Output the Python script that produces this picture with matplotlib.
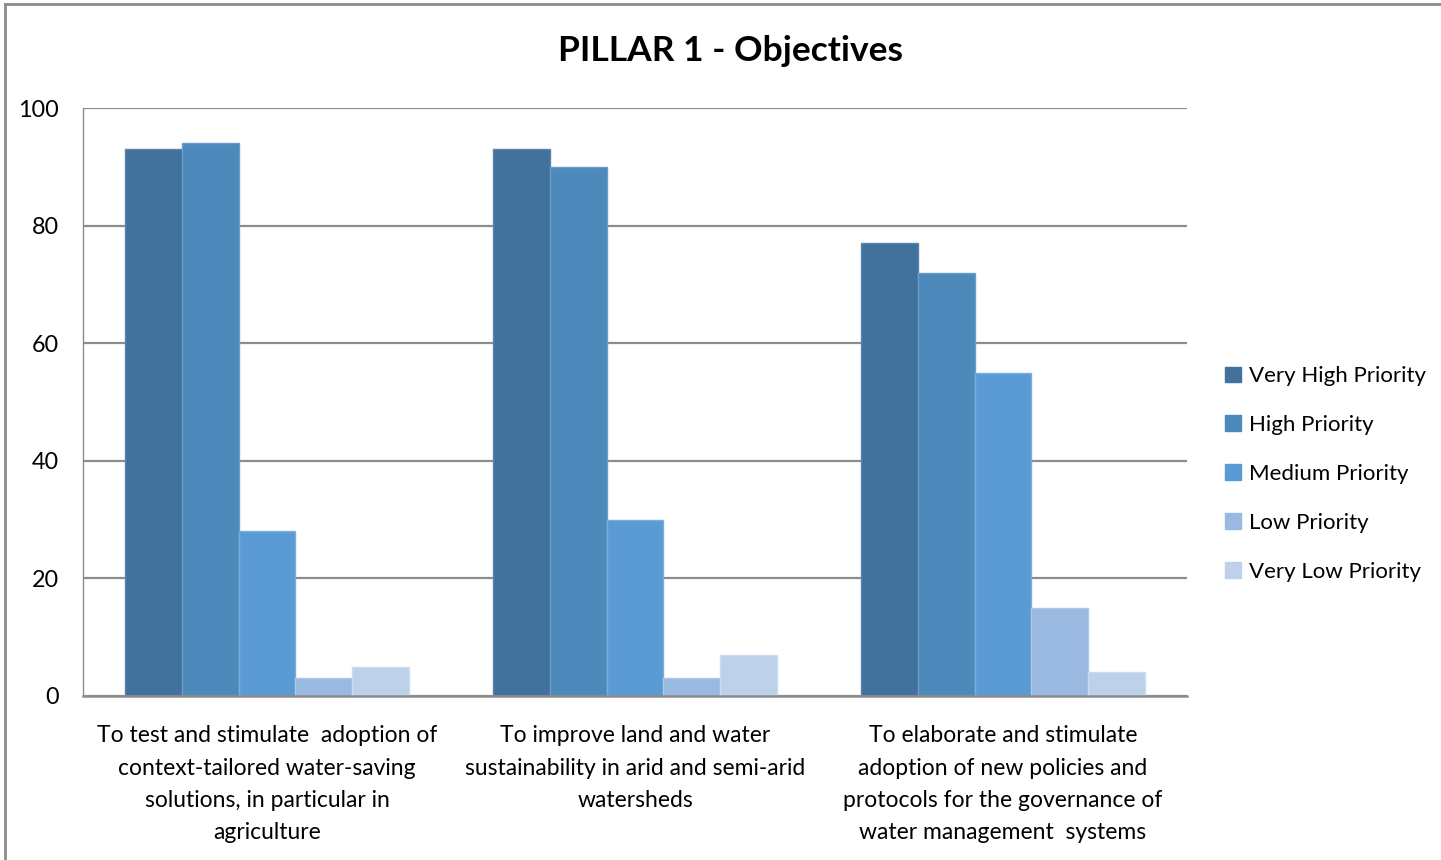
import matplotlib
matplotlib.use("Agg")
import matplotlib.pyplot as plt
from matplotlib.patches import Patch
from matplotlib.lines import Line2D
import numpy as np

plt.rcParams['font.family'] = ['Lato', 'DejaVu Sans']

categories = [
    "To test and stimulate  adoption of\ncontext-tailored water-saving\nsolutions, in particular in\nagriculture",
    "To improve land and water\nsustainability in arid and semi-arid\nwatersheds",
    "To elaborate and stimulate\nadoption of new policies and\nprotocols for the governance of\nwater management  systems",
]
series_names = ["Very High Priority", "High Priority", "Medium Priority",
                "Low Priority", "Very Low Priority"]
very_high = [93, 93, 77]
high = [94, 90, 72]
medium = [28, 30, 55]
low = [3, 3, 15]
very_low = [5, 7, 4]
y_ticks = [0, 20, 40, 60, 80, 100]

series = [very_high, high, medium, low, very_low]
colors = ["#41719C", "#4E89BC", "#5B9BD5", "#9AB9E0", "#BDD1EA"]
edges = ["#5A86AE", "#6A9DC9", "#7AAFDD", "#AEC7E6", "#CCDCEF"]

fig = plt.figure(figsize=(14.41, 8.60), dpi=100)
ax = fig.add_axes([83 / 1441, 1 - 696 / 860, (1187 - 83) / 1441, (696 - 108) / 860])

x = np.arange(len(categories))
width = 0.77 / 5
for i, (vals, c, ec) in enumerate(zip(series, colors, edges)):
    ax.bar(x - 0.385 + width * (i + 0.5), vals, width, color=c,
           edgecolor=ec, linewidth=1.0, zorder=3, label=series_names[i])

ax.set_xlim(-0.5, len(categories) - 0.5)
ax.set_ylim(0, 100)
ax.set_yticks(y_ticks)
ax.set_yticklabels([str(t) for t in y_ticks], fontsize=16.8)
ax.yaxis.grid(True, color="#8C8C8C", linewidth=1.6, zorder=0)
ax.set_xticks(x)
ax.set_xticklabels(categories, fontsize=16.5, linespacing=1.67, va="top")
ax.tick_params(axis="both", length=0)
ax.tick_params(axis="y", pad=17.5)
ax.tick_params(axis="x", pad=21)
for side in ["top", "right"]:
    ax.spines[side].set_visible(False)
ax.spines["left"].set_color("#8C8C8C")
ax.spines["left"].set_linewidth(1.0)
ax.spines["bottom"].set_color("#8C8C8C")
ax.spines["bottom"].set_linewidth(1.8)
ax.spines["bottom"].set_zorder(4)

fig.text(730 / 1441, 1 - 51 / 860, "PILLAR 1 - Objectives", ha="center",
         va="center", fontsize=25.5, fontweight="bold")

handles = [Patch(facecolor=c, edgecolor=c) for c in colors]
leg = fig.legend(handles, series_names, loc="center left",
                 bbox_to_anchor=(1214 / 1441, 1 - 474 / 860), frameon=False,
                 fontsize=16.0, handlelength=0.72, handleheight=0.72,
                 handletextpad=0.35, labelspacing=1.3, borderpad=0)

# outer chart frame
fig.add_artist(Line2D([5 / 1441, 5 / 1441], [0, 1 - 4 / 860],
                      transform=fig.transFigure, color="#8C8C8C", linewidth=2))
fig.add_artist(Line2D([5 / 1441, 1], [1 - 4 / 860, 1 - 4 / 860],
                      transform=fig.transFigure, color="#8C8C8C", linewidth=2))

fig.savefig("out.png", dpi=100, facecolor="white")
